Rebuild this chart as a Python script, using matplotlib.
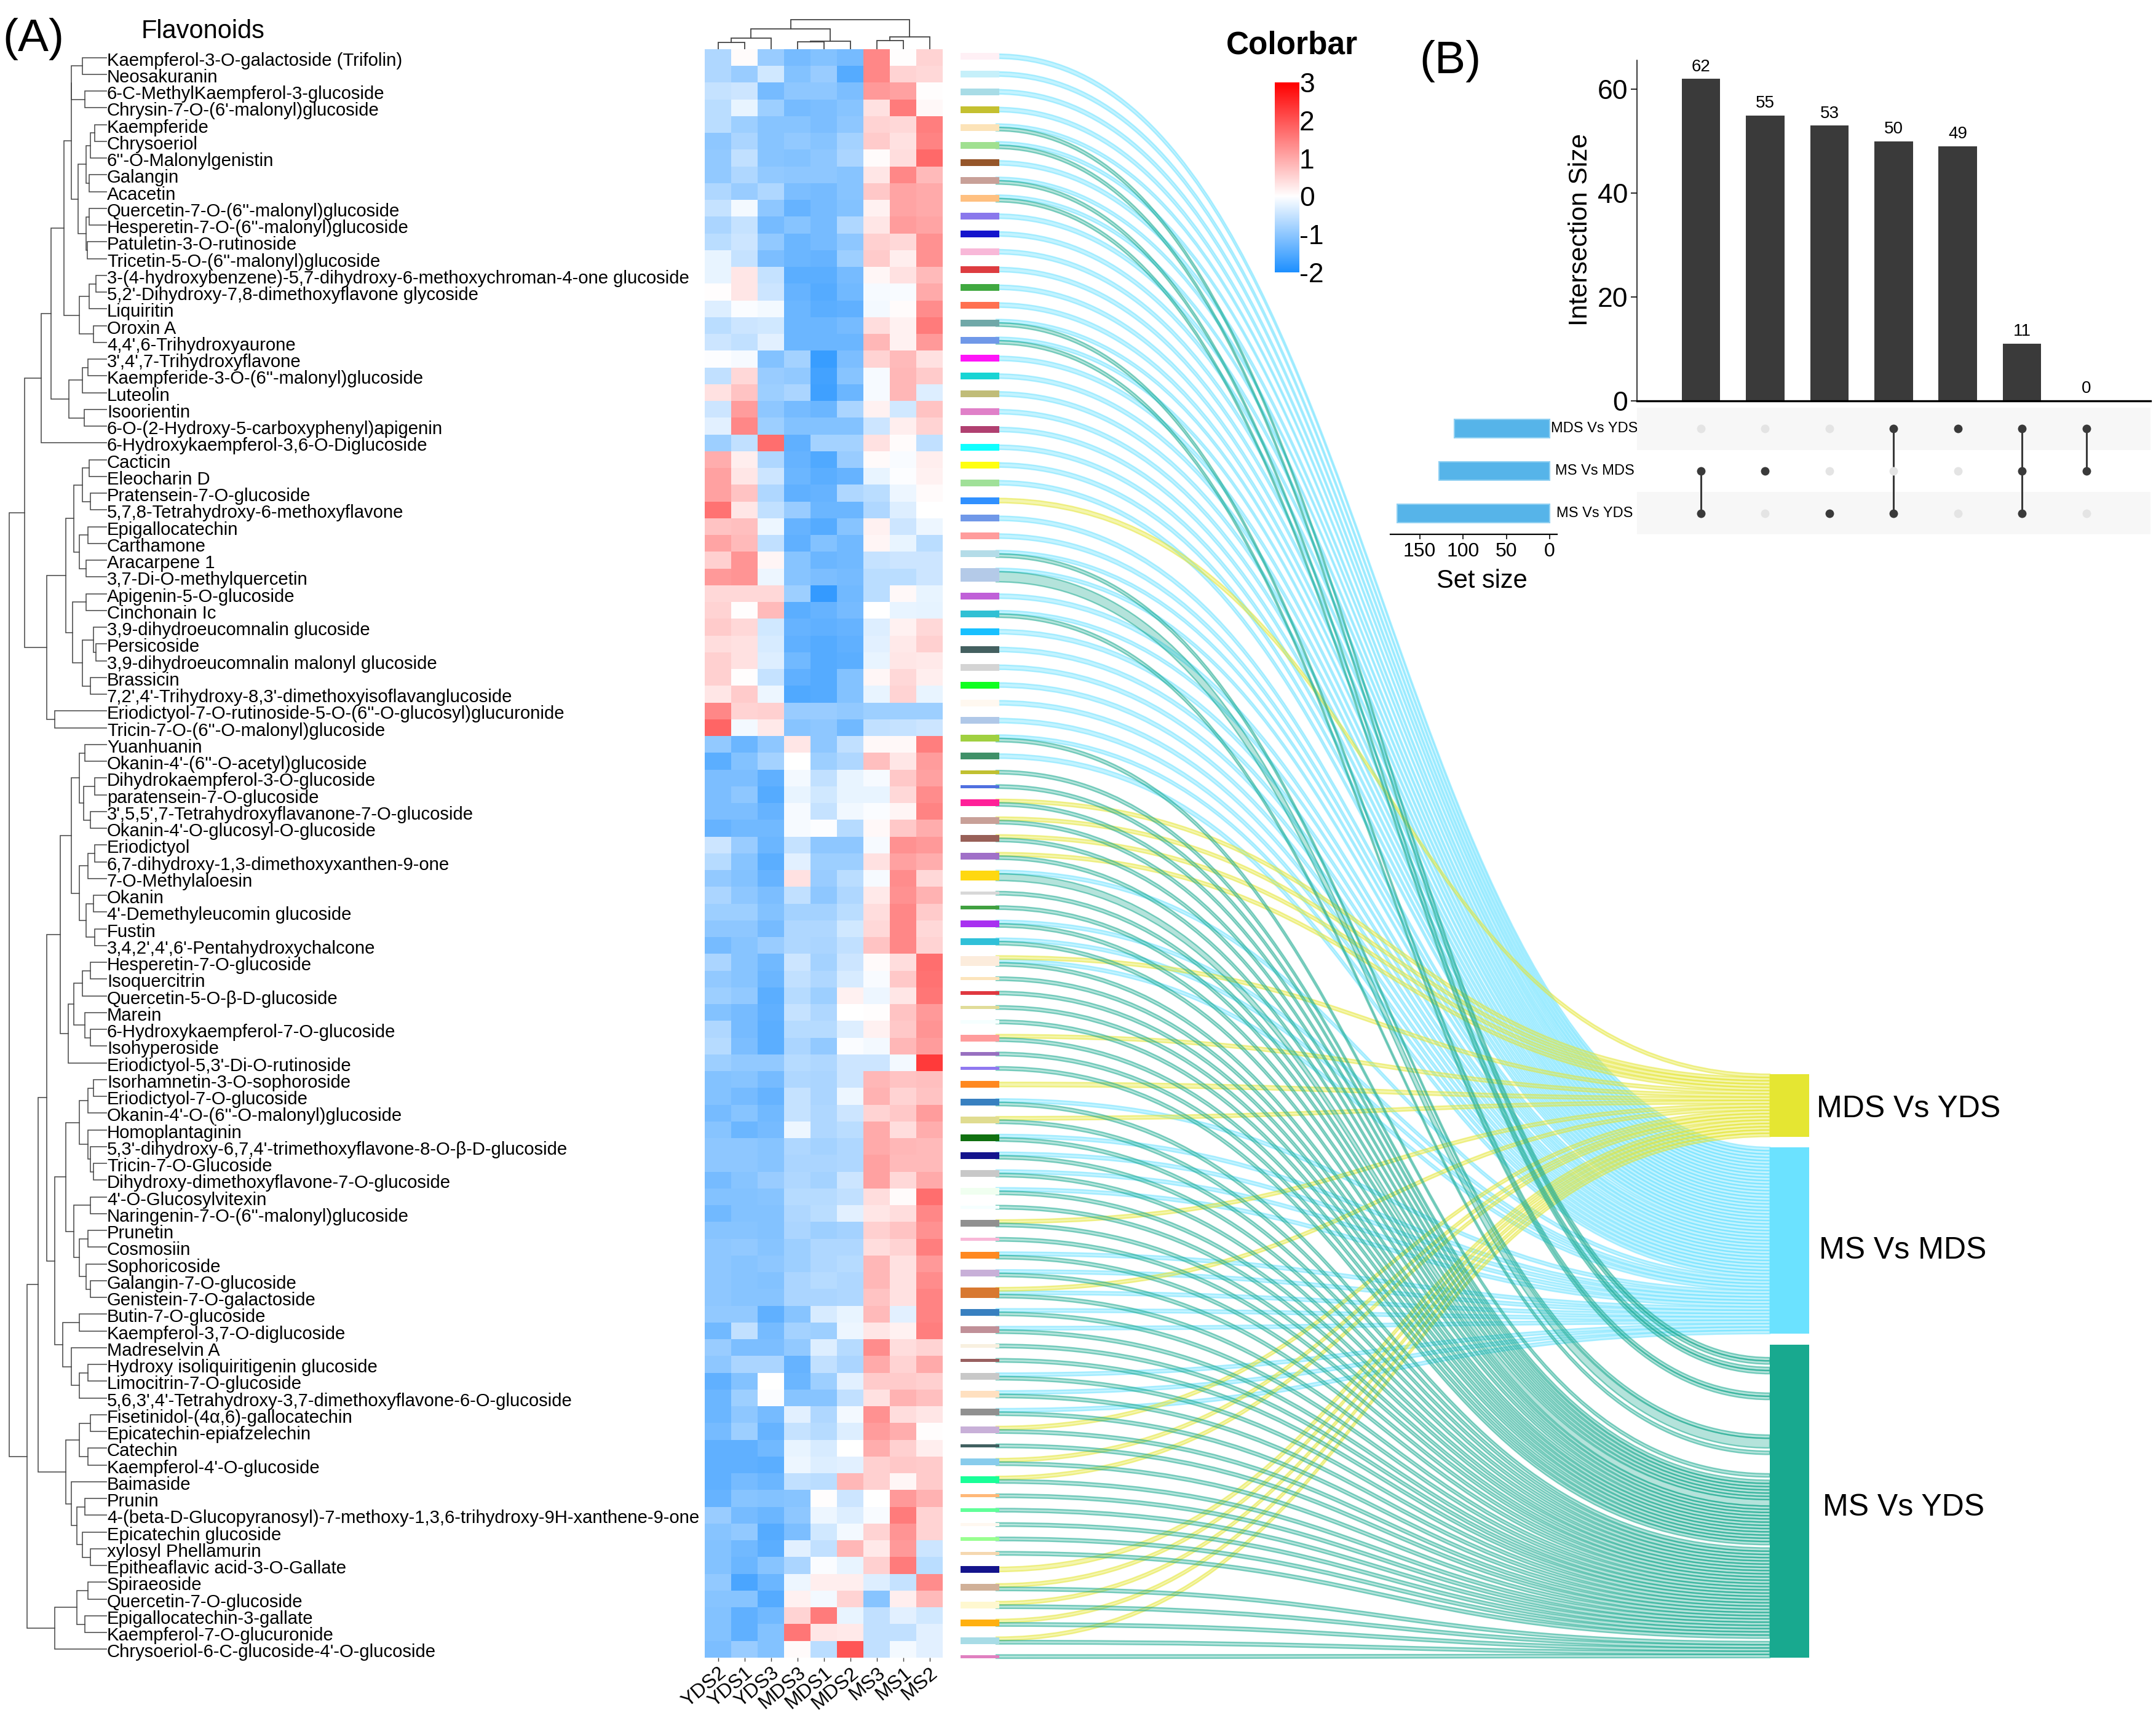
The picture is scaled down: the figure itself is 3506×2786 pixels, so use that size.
import matplotlib
matplotlib.use("Agg")
import matplotlib.pyplot as plt
from matplotlib.colors import LinearSegmentedColormap
from matplotlib.path import Path
from matplotlib.patches import PathPatch, Rectangle
import numpy as np

plt.rcParams['font.family'] = ['Liberation Sans', 'DejaVu Sans']

W, H = 3506, 2786

samples = ['YDS2', 'YDS1', 'YDS3', 'MDS3', 'MDS1', 'MDS2', 'MS3', 'MS1', 'MS2']

metabolites = [
    "Kaempferol-3-O-galactoside (Trifolin)", "Neosakuranin", "6-C-MethylKaempferol-3-glucoside",
    "Chrysin-7-O-(6'-malonyl)glucoside", "Kaempferide", "Chrysoeriol", "6''-O-Malonylgenistin",
    "Galangin", "Acacetin", "Quercetin-7-O-(6''-malonyl)glucoside", "Hesperetin-7-O-(6''-malonyl)glucoside",
    "Patuletin-3-O-rutinoside", "Tricetin-5-O-(6''-malonyl)glucoside",
    "3-(4-hydroxybenzene)-5,7-dihydroxy-6-methoxychroman-4-one glucoside",
    "5,2'-Dihydroxy-7,8-dimethoxyflavone glycoside", "Liquiritin", "Oroxin A", "4,4',6-Trihydroxyaurone",
    "3',4',7-Trihydroxyflavone", "Kaempferide-3-O-(6''-malonyl)glucoside", "Luteolin", "Isoorientin",
    "6-O-(2-Hydroxy-5-carboxyphenyl)apigenin", "6-Hydroxykaempferol-3,6-O-Diglucoside", "Cacticin",
    "Eleocharin D", "Pratensein-7-O-glucoside", "5,7,8-Tetrahydroxy-6-methoxyflavone", "Epigallocatechin",
    "Carthamone", "Aracarpene 1", "3,7-Di-O-methylquercetin", "Apigenin-5-O-glucoside", "Cinchonain Ic",
    "3,9-dihydroeucomnalin glucoside", "Persicoside", "3,9-dihydroeucomnalin malonyl glucoside", "Brassicin",
    "7,2',4'-Trihydroxy-8,3'-dimethoxyisoflavanglucoside",
    "Eriodictyol-7-O-rutinoside-5-O-(6''-O-glucosyl)glucuronide", "Tricin-7-O-(6''-O-malonyl)glucoside",
    "Yuanhuanin", "Okanin-4'-(6''-O-acetyl)glucoside", "Dihydrokaempferol-3-O-glucoside",
    "paratensein-7-O-glucoside", "3',5,5',7-Tetrahydroxyflavanone-7-O-glucoside",
    "Okanin-4'-O-glucosyl-O-glucoside", "Eriodictyol", "6,7-dihydroxy-1,3-dimethoxyxanthen-9-one",
    "7-O-Methylaloesin", "Okanin", "4'-Demethyleucomin glucoside", "Fustin", "3,4,2',4',6'-Pentahydroxychalcone",
    "Hesperetin-7-O-glucoside", "Isoquercitrin", "Quercetin-5-O-β-D-glucoside", "Marein",
    "6-Hydroxykaempferol-7-O-glucoside", "Isohyperoside", "Eriodictyol-5,3'-Di-O-rutinoside",
    "Isorhamnetin-3-O-sophoroside", "Eriodictyol-7-O-glucoside", "Okanin-4'-O-(6''-O-malonyl)glucoside",
    "Homoplantaginin", "5,3'-dihydroxy-6,7,4'-trimethoxyflavone-8-O-β-D-glucoside", "Tricin-7-O-Glucoside",
    "Dihydroxy-dimethoxyflavone-7-O-glucoside", "4'-O-Glucosylvitexin", "Naringenin-7-O-(6''-malonyl)glucoside",
    "Prunetin", "Cosmosiin", "Sophoricoside", "Galangin-7-O-glucoside", "Genistein-7-O-galactoside",
    "Butin-7-O-glucoside", "Kaempferol-3,7-O-diglucoside", "Madreselvin A", "Hydroxy isoliquiritigenin glucoside",
    "Limocitrin-7-O-glucoside", "5,6,3',4'-Tetrahydroxy-3,7-dimethoxyflavone-6-O-glucoside",
    "Fisetinidol-(4α,6)-gallocatechin", "Epicatechin-epiafzelechin", "Catechin", "Kaempferol-4'-O-glucoside",
    "Baimaside", "Prunin", "4-(beta-D-Glucopyranosyl)-7-methoxy-1,3,6-trihydroxy-9H-xanthene-9-one",
    "Epicatechin glucoside", "xylosyl Phellamurin", "Epitheaflavic acid-3-O-Gallate", "Spiraeoside",
    "Quercetin-7-O-glucoside", "Epigallocatechin-3-gallate", "Kaempferol-7-O-glucuronide",
    "Chrysoeriol-6-C-glucoside-4'-O-glucoside",
]

heat_values = [
    [-0.7, 0.05, -0.9, -1.2, -1.1, -1.2, 1.4, 0.02, 0.5],
    [-0.7, -0.9, -0.4, -1.1, -0.9, -1.5, 1.4, 0.5, 0.45],
    [-0.5, -0.45, -1.2, -1.0, -1.0, -1.15, 1.2, 1.1, 0.02],
    [-0.6, -0.2, -0.85, -1.2, -1.15, -1.05, 0.35, 1.55, 0.08],
    [-0.6, -0.85, -1.05, -1.05, -1.15, -1.0, 0.5, 0.45, 1.5],
    [-1.0, -0.75, -1.05, -0.95, -1.05, -0.8, 0.6, 0.35, 1.45],
    [-0.95, -0.55, -1.05, -1.1, -1.0, -0.75, 0.05, 0.4, 1.75],
    [-0.95, -0.7, -0.95, -1.0, -1.0, -1.05, 0.3, 1.4, 0.8],
    [-0.7, -0.9, -0.7, -1.15, -1.2, -1.05, 0.65, 1.05, 1.0],
    [-0.5, -0.1, -1.0, -1.35, -1.2, -1.1, 0.15, 1.05, 1.0],
    [-0.75, -0.5, -1.2, -1.05, -1.2, -0.7, 0.3, 1.15, 1.05],
    [-0.6, -0.45, -0.95, -1.3, -1.2, -1.0, 0.55, 0.45, 1.3],
    [-0.2, -0.5, -1.15, -1.3, -1.35, -0.85, 0.6, 0.2, 1.3],
    [-0.2, 0.3, -0.5, -1.45, -1.45, -1.2, 0.1, 0.35, 0.8],
    [0.03, 0.3, -0.45, -1.35, -1.5, -1.25, -0.08, -0.06, 1.0],
    [-0.3, -0.03, -0.1, -1.3, -1.45, -1.4, -0.1, 0.05, 1.35],
    [-0.6, -0.45, -0.4, -1.3, -1.3, -1.2, 0.4, 0.15, 1.55],
    [-0.45, -0.55, -0.25, -1.3, -1.3, -1.3, 0.85, 0.15, 1.2],
    [-0.02, -0.08, -1.1, -0.8, -1.75, -1.15, 0.5, 0.8, 0.35],
    [-0.55, 0.45, -0.9, -0.95, -1.65, -1.05, -0.08, 0.85, 0.6],
    [0.35, 0.7, -0.85, -0.75, -1.7, -1.3, -0.08, 0.85, -0.3],
    [-0.45, 1.15, -1.0, -1.2, -1.3, -0.75, 0.15, -0.4, 0.7],
    [-0.25, 1.4, -0.85, -1.1, -1.1, -1.1, -0.45, 0.2, 0.5],
    [-0.85, -0.55, 1.7, -1.4, -0.8, -0.8, 0.35, 0.05, -0.55],
    [0.95, 0.2, -0.7, -1.35, -1.55, -0.9, 0.07, -0.05, 0.2],
    [1.1, 0.3, -0.45, -1.3, -1.45, -1.35, -0.2, -0.02, 0.15],
    [1.1, 0.7, -0.7, -1.4, -1.35, -0.7, -0.6, -0.15, 0.07],
    [1.65, 0.3, -0.55, -0.9, -1.3, -1.3, -0.7, -0.3, 0.0],
    [0.7, 0.75, -0.15, -1.35, -1.5, -1.05, 0.15, -0.45, -0.15],
    [1.05, 0.8, -0.55, -1.4, -1.1, -1.25, 0.12, -0.2, -0.6],
    [0.55, 1.25, 0.12, -1.05, -1.3, -1.25, -0.5, -0.45, -0.45],
    [1.2, 1.25, -0.15, -1.05, -1.15, -1.2, -0.6, -0.6, -0.45],
    [0.45, 0.45, 0.45, -0.85, -1.8, -1.25, -0.6, 0.08, -0.2],
    [0.5, 0.03, 0.8, -1.45, -1.35, -1.2, 0.0, -0.2, -0.22],
    [0.6, 0.45, -0.4, -1.35, -1.4, -1.35, -0.3, 0.15, 0.45],
    [0.4, 0.35, -0.35, -1.4, -1.5, -1.4, -0.25, 0.25, 0.55],
    [0.55, 0.35, -0.3, -1.25, -1.5, -1.45, -0.2, 0.3, 0.25],
    [0.55, 0.02, -0.5, -1.4, -1.5, -1.1, 0.1, 0.45, 0.2],
    [0.3, 0.6, -0.15, -1.55, -1.5, -1.1, -0.2, 0.5, -0.2],
    [1.4, 0.5, 0.55, -0.9, -0.9, -0.95, -0.85, -0.85, -0.85],
    [1.8, -0.1, 0.25, -1.05, -1.0, -1.25, -0.55, -0.5, -0.45],
    [-0.95, -1.3, -1.0, 0.3, -1.0, -0.55, 0.08, 0.08, 1.5],
    [-1.45, -1.1, -0.8, 0.0, -0.85, -0.7, 0.75, 0.3, 1.15],
    [-1.15, -1.15, -1.4, -0.1, -0.55, -0.2, -0.08, 0.65, 1.1],
    [-1.15, -1.0, -1.5, -0.2, -0.4, -0.2, -0.2, 0.45, 1.35],
    [-1.15, -1.15, -1.35, -0.08, -0.5, -0.12, -0.03, 0.12, 1.45],
    [-1.35, -1.25, -1.25, -0.07, -0.02, -0.65, 0.08, 0.65, 0.95],
    [-0.45, -0.9, -1.3, -0.5, -1.0, -1.0, -0.08, 1.3, 1.2],
    [-0.65, -1.05, -1.45, -0.25, -0.85, -0.85, 0.35, 1.1, 0.95],
    [-0.95, -1.1, -1.35, 0.35, -0.9, -0.6, -0.08, 1.35, 0.45],
    [-0.75, -1.0, -1.15, -0.55, -1.0, -0.7, 0.25, 1.3, 0.9],
    [-0.85, -0.85, -1.1, -0.8, -0.8, -0.6, 0.4, 1.4, 0.6],
    [-1.0, -1.0, -1.2, -0.7, -0.7, -0.4, 0.45, 1.4, 0.45],
    [-1.2, -1.05, -0.9, -0.7, -0.75, -0.55, 0.7, 1.4, 0.5],
    [-0.75, -1.05, -1.25, -0.45, -0.8, -0.45, 0.07, 0.4, 1.7],
    [-0.95, -1.05, -1.3, -0.55, -0.7, -0.35, -0.05, 0.65, 1.65],
    [-0.85, -0.95, -1.45, -0.65, -0.85, 0.15, -0.15, 0.3, 1.6],
    [-1.1, -1.2, -1.4, -0.5, -0.7, 0.0, 0.02, 0.7, 1.2],
    [-0.7, -1.2, -1.45, -0.65, -0.65, -0.3, 0.15, 0.65, 1.25],
    [-0.65, -1.15, -1.45, -0.75, -0.95, -0.03, -0.1, 0.85, 1.15],
    [-0.85, -0.95, -0.95, -0.65, -0.7, -0.45, -0.45, -0.1, 2.3],
    [-1.1, -1.05, -1.2, -0.7, -0.75, -0.45, 0.85, 0.7, 0.75],
    [-1.1, -1.2, -1.35, -0.5, -0.75, -0.15, 0.9, 0.5, 0.7],
    [-1.2, -1.05, -1.25, -0.5, -0.7, -0.45, 0.5, 0.65, 1.15],
    [-1.05, -1.3, -1.2, -0.15, -0.7, -0.6, 1.0, 0.4, 0.95],
    [-1.0, -1.0, -1.05, -0.7, -0.8, -0.7, 1.0, 0.85, 0.8],
    [-1.0, -1.0, -1.05, -0.75, -0.75, -0.7, 1.1, 0.8, 0.8],
    [-1.2, -1.05, -0.9, -0.7, -0.8, -0.45, 1.1, 0.45, 1.0],
    [-1.1, -1.1, -1.05, -0.65, -0.65, -0.55, 0.4, 0.05, 1.7],
    [-1.25, -1.1, -1.1, -0.7, -0.6, -0.25, 0.3, 0.4, 1.4],
    [-1.05, -1.05, -1.1, -0.75, -0.85, -0.8, 0.55, 0.7, 1.3],
    [-1.0, -0.95, -1.05, -0.85, -0.7, -0.7, 0.4, 0.5, 1.5],
    [-1.0, -1.05, -1.0, -0.85, -0.7, -0.65, 0.85, 0.35, 1.2],
    [-1.0, -1.05, -1.1, -0.75, -0.65, -0.7, 0.85, 0.35, 1.35],
    [-1.0, -1.05, -1.05, -0.75, -0.75, -0.7, 0.7, 0.35, 1.45],
    [-0.95, -0.95, -1.4, -1.05, -0.35, -0.2, 0.8, -0.25, 1.45],
    [-1.25, -0.55, -1.2, -0.8, -0.85, -0.15, 0.3, 0.15, 1.5],
    [-0.9, -1.15, -1.15, -0.95, -0.3, -0.65, 1.35, 0.4, 0.5],
    [-1.0, -0.75, -0.75, -1.35, -0.55, -0.75, 1.0, 0.5, 1.0],
    [-1.4, -1.1, 0.0, -1.3, -0.85, -0.25, 0.6, 0.6, 0.55],
    [-1.3, -0.85, -0.03, -1.05, -1.05, -0.55, 0.35, 0.9, 0.75],
    [-1.3, -1.0, -1.2, -0.25, -0.7, -0.1, 1.3, 0.4, 0.3],
    [-1.2, -0.85, -1.35, -0.5, -0.65, -0.3, 1.15, 0.95, 0.02],
    [-1.4, -1.4, -1.25, -0.2, -0.35, 0.0, 0.95, 0.55, 0.2],
    [-1.4, -1.4, -1.45, -0.15, -0.3, -0.25, 0.55, 0.65, 0.6],
    [-1.4, -1.2, -1.3, -0.55, -0.6, 0.85, 0.55, 0.1, 0.6],
    [-1.35, -1.05, -1.1, -1.05, 0.03, -0.45, 0.0, 1.2, 0.9],
    [-0.9, -1.2, -1.3, -1.0, -0.15, -0.3, -0.05, 1.55, 0.5],
    [-1.05, -0.95, -1.5, -1.15, -0.4, -0.1, 0.5, 1.25, 0.5],
    [-1.1, -1.25, -1.45, -0.25, -0.55, 0.85, 0.25, 1.2, -0.45],
    [-1.1, -1.3, -1.05, -0.75, -0.03, -0.2, 0.55, 1.55, -0.6],
    [-0.95, -1.6, -1.3, -0.15, 0.2, 0.2, -0.3, -0.5, 1.35],
    [-1.05, -1.05, -1.5, 0.15, -0.1, 0.5, -1.05, 0.2, 0.8],
    [-1.1, -1.4, -1.25, 0.5, 1.55, -0.2, -0.55, -0.25, -0.4],
    [-1.1, -1.4, -1.1, 1.6, 0.3, 0.25, -0.55, -0.55, -0.25],
    [-1.15, -0.9, -1.1, 0.07, -0.6, 2.0, -0.55, -0.1, -0.25],
]

# sankey left column, top to bottom: node colour and which comparisons it links to
# C = MS Vs MDS, G = MS Vs YDS, Y = MDS Vs YDS
node_colors = [
    '#FFF0F5', '#C6F0FA', '#A8DCE6', '#C4C030', '#FCE3B8', '#A0E090', '#96562A', '#C8A098', '#FFC080', '#8A78EC',
    '#1515CC', '#F8B8D8', '#DD3C40', '#40A840', '#FF7050', '#70A8A8', '#7098E8', '#FF14F8', '#18D4D4', '#C0BC78',
    '#E080C8', '#B04070', '#10FFFF', '#FFFF10', '#A0E098', '#3090FF', '#7098E8', '#FF9C9C', '#B4DCE8', '#B4CAE8',
    '#C060D8', '#30C0D4', '#18C0FF', '#446060', '#D4D4D4', '#10FF20', '#FFF8F0', '#B0C8E8', '#A0D040', '#409068',
    '#C0C030', '#5070E0', '#FF2098', '#C8A098', '#986058', '#A070C8', '#FFD810', '#D8D8D8', '#40A040', '#A830F0',
    '#30C0D8', '#FCECDC', '#FCE4BC', '#E03840', '#E0DC98', '#F5FFFF', '#FF9C9C', '#9870C0', '#9078F0', '#FF8820',
    '#3880C0', '#E0DC90', '#107010', '#14148C', '#C8C8C8', '#F0FFF0', '#F5FFFF', '#909090', '#F8B8D8', '#FF8820',
    '#C8B0D8', '#D87830', '#3880C0', '#C09098', '#F8F0E0', '#986060', '#C8C8C8', '#FFE0C0', '#909090', '#C8B0D8',
    '#406060', '#88CCEC', '#18FF98', '#FFB878', '#60FF98', '#FFF8F0', '#98FF90', '#F5D8B0', '#14148C', '#D0B098',
    '#FFF8D0', '#FFB010', '#A8DCE6', '#E080C0',
]
node_links = [
    'C', 'C', 'C', 'C', 'CG', 'CG', 'C', 'CG', 'CG', 'C',
    'C', 'C', 'C', 'C', 'C', 'CG', 'CG', 'C', 'C', 'C',
    'C', 'C', 'C', 'C', 'C', 'Y', 'C', 'C', 'CG', 'CG',
    'C', 'CG', 'C', 'C', 'C', 'C', 'C', 'C', 'CG', 'C',
    'G', 'G', 'YG', 'YG', 'YG', 'YG', 'CG', 'G', 'G', 'CG',
    'CG', 'YCG', 'G', 'G', 'G', 'G', 'YG', 'G', 'G', 'Y',
    'CG', 'YG', 'CG', 'CG', 'CG', 'CG', 'G', 'YG', 'G', 'CG',
    'CG', 'YCG', 'CG', 'CG', 'G', 'G', 'CG', 'CG', 'CG', 'YG',
    'G', 'YG', 'YG', 'G', 'G', 'G', 'G', 'G', 'Y', 'YG',
    'YG', 'YG', 'YG', 'G',
]
# two nodes carry a heavier MS Vs YDS flow (index: weight)
heavy_green = {29: 3, 46: 2}

targets = {'Y': 'MDS Vs YDS', 'C': 'MS Vs MDS', 'G': 'MS Vs YDS'}
target_colors = {'Y': '#E5E632', 'C': '#6BE2FF', 'G': '#18A98F'}

# UpSet data
bar_values = [62, 55, 53, 50, 49, 11, 0]
set_names = ['MDS Vs YDS', 'MS Vs MDS', 'MS Vs YDS']
set_sizes = [110, 128, 176]
memberships = [[1, 2], [1], [2], [0, 2], [0], [0, 1, 2], [0, 1]]

# dendrograms as (merge height, left, right), leaves are row / column numbers
t_a = (26, (18, 1, 2), (16, 3, 4))
t_b = (15, (12, (9, 5, 6), 7), (13, 8, 9))
t_c = (15, (13, 10, 11), (14.5, 12, 13))
t_d = (20, (13, (8, 14, 15), 16), (10, 17, 18))
t_e = (27.6, (18, (14, 19, 20), 21), (16.4, 22, 23))
t_top = (48, (40.7, (31.5, (26, t_a, (21, t_b, t_c)), t_d), t_e), 24)
t_f = (24, (18, (13, 25, 26), (12, 27, 28)), (20, (14, 29, 30), (15, 31, 32)))
t_h = (25, (15, 33, 34), (18, (10, 35, (8, 36, 37)), (12, 38, 39)))
t_mid = (44, (30, t_f, t_h), (38, 40, 41))
g1 = (26, (20, (16, 42, 43), (17, (9, 44, 45), (12, 46, 47))),
      (20, (14, (9, 48, 49), 50), (15, (10, 51, 52), (9, 53, 54))))
g2 = (28, (24, (18, (12, 55, 56), 57), (16, 58, (12, 59, 60))), 61)
g3 = (30, (20, (14, (10, 62, 63), 64), (14, 65, (12, 66, (10, 67, 68)))),
      (24, (12, 69, 70), (20, (14, 71, 72), (15, 73, (12, 74, 75)))))
g4 = (32, (20, 76, 77), (26, 78, (20, (14, 79, 80), 81)))
g5 = (30, (20, (12, 82, 83), (14, 84, 85)), (26, 86, (22, (16, 87, 88), (18, 89, (12, 90, 91)))))
g6 = (38, (22, (14, 92, 93), (16, 94, 95)), 96)
t_low = (58, (50, (44, (34, g1, g2), (38, g3, g4)), g5), g6)
row_tree = (71, (60, t_top, t_mid), t_low)
col_tree = (48, (33, (18, (11, 1, 2), 3), (13, (12, 4, 5), 6)), (20, (14, 7, 8), 9))

fig = plt.figure(figsize=(W / 100, H / 100), dpi=100, facecolor='white')


def px_axes(x0, y0, x1, y1):
    # axes placed with picture pixels, y counted from the top
    ax = fig.add_axes([x0 / W, 1 - y1 / H, (x1 - x0) / W, (y1 - y0) / H])
    ax.patch.set_alpha(0)
    return ax


page = fig.add_axes([0, 0, 1, 1])
page.set_xlim(0, W)
page.set_ylim(H, 0)
page.axis('off')

# ---- heatmap
HX0, HX1, HY0, HY1 = 1146, 1533, 80, 2696
cmap = LinearSegmentedColormap.from_list('hm', [(0, '#1E90FF'), (0.4, '#FFFFFF'), (1, '#FF0000')])
ax_h = px_axes(HX0, HY0, HX1, HY1)
ax_h.imshow(np.array(heat_values), cmap=cmap, vmin=-2, vmax=3, aspect='auto', interpolation='nearest')
ax_h.set_yticks([])
ax_h.set_xticks(range(len(samples)))
ax_h.set_xticklabels(samples, rotation=40, ha='right', rotation_mode='anchor', fontsize=23)
ax_h.tick_params(axis='x', length=4, width=1, color='#444444', pad=3)
for s in ax_h.spines.values():
    s.set_visible(False)

row_h = (HY1 - HY0) / len(metabolites)
for i, name in enumerate(metabolites):
    page.text(174, HY0 + row_h * (i + 0.5) + 5, name, fontsize=21.1, va='center', ha='left', color='black')


def draw_tree(ax, node, horizontal):
    if not isinstance(node, tuple):
        return node - 0.5, 0
    h, left, right = node
    p1, h1 = draw_tree(ax, left, horizontal)
    p2, h2 = draw_tree(ax, right, horizontal)
    xs, ys = [h1, h, h, h2], [p1, p1, p2, p2]
    if horizontal:
        ax.plot(xs, ys, color='#444444', lw=1.1, solid_joinstyle='miter')
    else:
        ax.plot(ys, xs, color='#444444', lw=1.3, solid_joinstyle='miter')
    return (p1 + p2) / 2, h


ax_t = px_axes(0, HY0, 174, HY1)
ax_t.set_xlim(77.8, 0)
ax_t.set_ylim(len(metabolites), 0)
ax_t.axis('off')
draw_tree(ax_t, row_tree, True)

ax_c = px_axes(HX0, 25, HX1, HY0)
ax_c.set_xlim(0, 9)
ax_c.set_ylim(0, 55)
ax_c.axis('off')
draw_tree(ax_c, col_tree, False)

# ---- sankey
UNIT = 5.5
NX0, NX1, LX0, TX0, TX1 = 1562, 1625, 1620, 2878, 2942
target_box = {'Y': (1747, 1848.5), 'C': (1866, 2169), 'G': (2187, 2696)}


def weights_of(i):
    return {k: (heavy_green.get(i, 1) if k == 'G' else 1) for k in node_links[i]}


heights = []
for i in range(len(node_links)):
    total = sum(weights_of(i).values())
    if node_links[i] in ('C', 'Y'):
        total = 2
    heights.append(total * UNIT)
gap = (2697 - 86 - sum(heights)) / (len(heights) - 1)

# slot sizes at the right hand side
n_y = sum('Y' in l for l in node_links)
n_c = sum('C' in l for l in node_links)
extra = sum(v - 1 for v in heavy_green.values())
slot = {'Y': (target_box['Y'][1] - target_box['Y'][0]) / n_y,
        'C': (target_box['C'][1] - target_box['C'][0]) / n_c,
        'G': (target_box['G'][1] - target_box['G'][0]) / (len(node_links) + extra)}
cursor = {k: target_box[k][0] for k in targets}
link_style = {'C': ('#6BE2FF', 0.4, 0.5), 'Y': ('#E5E632', 0.4, 0.5), 'G': ('#18A98F', 0.32, 0.52)}
links = {'C': [], 'Y': [], 'G': []}

y = 86.0
for i, col in enumerate(node_colors):
    h = heights[i]
    page.add_patch(Rectangle((NX0, y), NX1 - NX0, h, facecolor=col, edgecolor='none', zorder=3))
    w = weights_of(i)
    if len(w) == 1 and node_links[i] != 'G':
        k = node_links[i]
        links[k].append((y + 2, y + h - 2, cursor[k], cursor[k] + slot[k]))
        cursor[k] += slot[k]
    else:
        sy = y
        for k in ('Y', 'C', 'G'):
            if k in w:
                links[k].append((sy, sy + w[k] * UNIT, cursor[k], cursor[k] + w[k] * slot[k]))
                sy += w[k] * UNIT
                cursor[k] += w[k] * slot[k]
    # the MS Vs YDS side keeps a slot for every node, linked or not
    if 'G' not in w:
        cursor['G'] += slot['G']
    y += h + gap


def band(s0, s1, t0, t1):
    xm = (LX0 + TX0) / 2
    verts = [(LX0, s0), (xm, s0), (xm, t0), (TX0, t0), (TX0, t1), (xm, t1), (xm, s1), (LX0, s1), (LX0, s0)]
    codes = [Path.MOVETO, Path.CURVE4, Path.CURVE4, Path.CURVE4, Path.LINETO,
             Path.CURVE4, Path.CURVE4, Path.CURVE4, Path.CLOSEPOLY]
    return Path(verts, codes)


for k in ('C', 'Y', 'G'):
    col, fa, ea = link_style[k]
    rgb = matplotlib.colors.to_rgb(col)
    for s0, s1, t0, t1 in links[k]:
        page.add_patch(PathPatch(band(s0, s1, t0, t1), facecolor=rgb + (fa,), edgecolor=rgb + (ea,), lw=1.7, zorder=2))

for k, (y0, y1) in target_box.items():
    page.add_patch(Rectangle((TX0, y0), TX1 - TX0, y1 - y0, facecolor=target_colors[k], edgecolor='none', zorder=3))
page.text(2954, 1804, targets['Y'], fontsize=36, va='center')
page.text(2958, 2034, targets['C'], fontsize=36, va='center')
page.text(2964, 2452, targets['G'], fontsize=36, va='center')

# ---- colorbar
ax_cb = px_axes(2073, 134, 2113, 443)
ax_cb.imshow(np.linspace(3, -2, 256).reshape(-1, 1), cmap=cmap, vmin=-2, vmax=3, aspect='auto', extent=[0, 1, -2, 3])
ax_cb.set_xticks([])
ax_cb.yaxis.tick_right()
ax_cb.set_yticks([-2, -1, 0, 1, 2, 3])
ax_cb.set_yticklabels(['-2', '-1', '0', '1', '2', '3'], fontsize=32)
ax_cb.tick_params(axis='y', length=0, pad=0)
for s in ax_cb.spines.values():
    s.set_visible(False)
page.text(2101, 74, 'Colorbar', fontsize=37, fontweight='bold', ha='center', va='center')

# ---- UpSet
XR = (-0.996, 7.0)
ax_b = px_axes(2662, 98, 3497, 652)
ax_b.bar(range(len(bar_values)), bar_values, width=0.6, color='#3A3A3A')
for i, v in enumerate(bar_values):
    ax_b.text(i, v + 0.8, str(v), ha='center', va='bottom', fontsize=20)
ax_b.set_xlim(*XR)
ax_b.set_ylim(0, 65.6)
ax_b.set_xticks([])
ax_b.set_yticks([0, 20, 40, 60])
ax_b.tick_params(axis='y', labelsize=32, width=1.2, length=7)
ax_b.spines['top'].set_visible(False)
ax_b.spines['right'].set_visible(False)
ax_b.spines['bottom'].set_linewidth(2.4)
ax_b.spines['left'].set_linewidth(1.1)
page.text(2570, 374, 'Intersection Size', fontsize=30.5, rotation=90, ha='center', va='center')

ax_m = px_axes(2662, 663, 3497, 869)
ax_m.set_xlim(*XR)
ax_m.set_ylim(2.5, -0.5)
ax_m.axis('off')
ax_m.axhspan(-0.5, 0.5, color='#F7F7F7', lw=0)
ax_m.axhspan(1.5, 2.5, color='#F7F7F7', lw=0)
for i, rows in enumerate(memberships):
    for r in range(3):
        ax_m.scatter(i, r, s=100, color='#3A3A3A' if r in rows else '#E4E4E4', lw=0, zorder=3)
    if len(rows) > 1:
        ax_m.plot([i, i], [min(rows), max(rows)], color='#3A3A3A', lw=2.2, zorder=2)

ax_s = px_axes(2261, 663, 2532, 869)
ax_s.barh(range(3), set_sizes, height=0.44, color='#56B4E9', edgecolor='#8FD0F2', lw=1.5)
ax_s.set_xlim(183.7, -8.5)
ax_s.set_ylim(2.5, -0.5)
ax_s.set_yticks([])
ax_s.set_xticks([150, 100, 50, 0])
ax_s.tick_params(axis='x', labelsize=23, width=1.2, length=6)
for side in ('top', 'left', 'right'):
    ax_s.spines[side].set_visible(False)
ax_s.spines['bottom'].set_linewidth(1.6)
page.text(2410, 945, 'Set size', fontsize=30, ha='center', va='center')
for r, name in enumerate(set_names):
    page.text(2593, 697 + 69 * r, name, fontsize=17, ha='center', va='center')

page.text(54, 64, '(A)', fontsize=54, ha='center', va='center')
page.text(2358, 100, '(B)', fontsize=54, ha='center', va='center')
page.text(330, 51, 'Flavonoids', fontsize=30, ha='center', va='center')

fig.savefig('out.png', dpi=100)
